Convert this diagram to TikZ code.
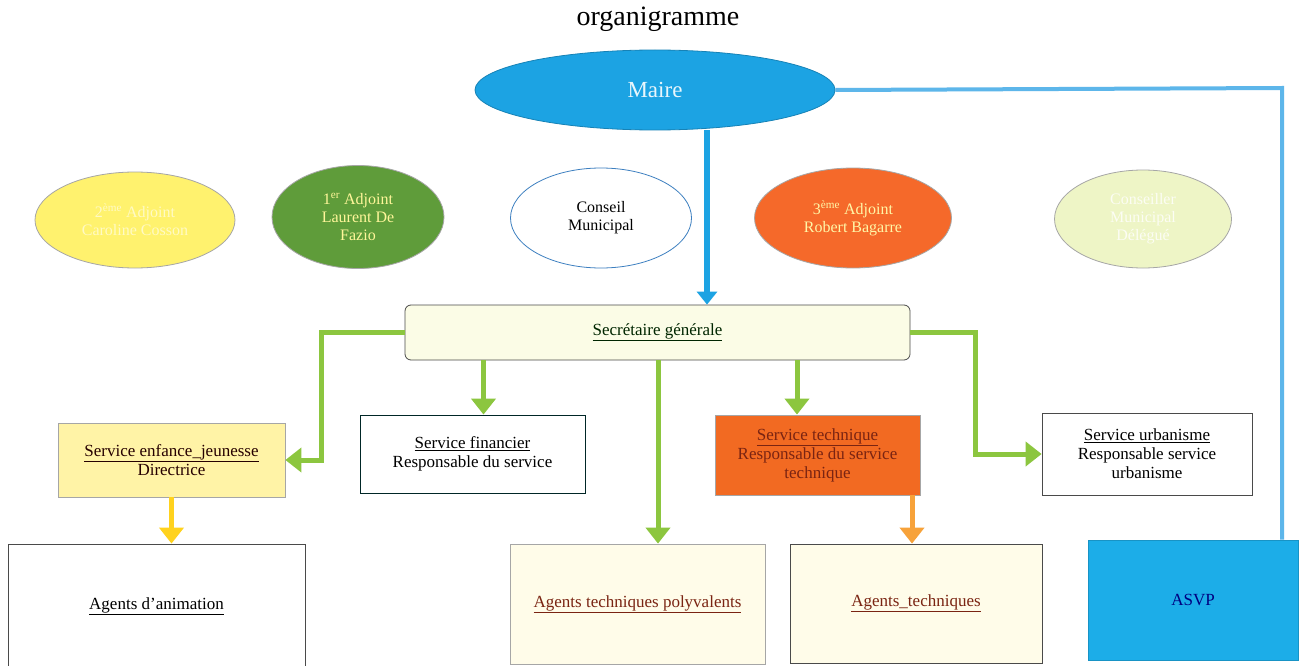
\documentclass[tikz,border=0pt]{standalone}
\usepackage{fontspec}
\setmainfont{Liberation Serif}
\usetikzlibrary{arrows.meta,shapes.geometric,calc}
\definecolor{maireblue}{HTML}{1CA3E3}
\definecolor{lineblue}{HTML}{5DB6EA}
\definecolor{adjyellow}{HTML}{FFF26E}
\definecolor{adjgreen}{HTML}{5F9C3A}
\definecolor{adjorange}{HTML}{F5692A}
\definecolor{adjpale}{HTML}{EEF5C6}
\definecolor{conblue}{HTML}{3C7FC0}
\definecolor{linkgreen}{HTML}{8CC63F}
\definecolor{secfill}{HTML}{FBFCE6}
\definecolor{enffill}{HTML}{FFF3A6}
\definecolor{techfill}{HTML}{F26A22}
\definecolor{agfill}{HTML}{FFFCE9}
\definecolor{asvpfill}{HTML}{1CADE8}
\definecolor{arryellow}{HTML}{FFD21E}
\definecolor{arrorange}{HTML}{F7A23A}
\definecolor{darkred}{HTML}{7A2412}
\definecolor{boxgray}{HTML}{4A4A4A}
\begin{document}
\begin{tikzpicture}[x=1pt,y=-1pt,
  txt/.style={font=\fontsize{17}{19}\selectfont, align=center},
  otxt/.style={font=\fontsize{16}{18}\selectfont, align=center},
  oval/.style={ellipse, draw=gray!70, line width=0.8pt, inner sep=0pt, otxt},
  sbox/.style={rectangle, draw=boxgray, line width=0.8pt, inner sep=0pt, txt},
  greenarrow/.style={draw=linkgreen, line width=5pt, -{Triangle[width=24pt,length=16pt]}},
  yarrow/.style={draw=arryellow, line width=5pt, -{Triangle[width=24pt,length=16pt]}},
  oarrow/.style={draw=arrorange, line width=5pt, -{Triangle[width=24pt,length=16pt]}},
  bluearrow/.style={draw=maireblue, line width=6pt, -{Triangle[width=20pt,length=13pt]}},
  blueline/.style={draw=lineblue, line width=4pt}
]
\useasboundingbox (0,0) rectangle (1308,666);
\fill[white] (0,0) rectangle (1308,666);

\node[font=\fontsize{28}{30}\selectfont] (title) at (658,19) {organigramme};

\node[oval, fill=maireblue, draw=maireblue!80!black, minimum width=360, minimum height=80, text=white!90!maireblue, font=\fontsize{23}{25}\selectfont] (maire) at (655,90) {Maire};

\node[oval, fill=adjyellow, minimum width=200, minimum height=96, text=adjyellow!40!white] (adj2) at (135,220) {2\textsuperscript{ème} Adjoint\\Caroline Cosson};
\node[oval, fill=adjgreen, minimum width=172, minimum height=103, text=adjyellow!70!white] (adj1) at (358,217) {1\textsuperscript{er} Adjoint\\Laurent De\\Fazio};
\node[oval, fill=white, draw=conblue, minimum width=181, minimum height=100, text=black] (conseil) at (601,218) {Conseil\\Municipal};
\node[oval, fill=adjorange, minimum width=197, minimum height=100, text=adjyellow!60!white] (adj3) at (853,218) {3\textsuperscript{ème} Adjoint\\Robert Bagarre};
\node[oval, fill=adjpale, minimum width=177, minimum height=98, text=white!80!adjpale] (cmd) at (1143,219) {Conseiller\\Municipal\\Délégué};

\node[sbox, rounded corners=6pt, fill=secfill, minimum width=505, minimum height=55] (sec) at (657.5,332.5) {\textcolor{black!85!green}{\underline{Secrétaire générale}}};

\node[sbox, fill=enffill, draw=gray!70, minimum width=227, minimum height=74, text=black!85!red] (enf) at (171.5,460) {\underline{Service enfance\_jeunesse}\\Directrice};
\node[sbox, fill=white, draw=black!70!teal, minimum width=225, minimum height=78] (fin) at (472.5,454) {\underline{Service financier}\\Responsable du service};
\node[sbox, fill=techfill, draw=gray!70, minimum width=205, minimum height=80, text=darkred] (tech) at (817.5,455) {\underline{Service technique}\\Responsable du service\\technique};
\node[sbox, fill=white, minimum width=210, minimum height=82] (urb) at (1147,454) {\underline{Service urbanisme}\\Responsable service\\urbanisme};

\node[sbox, fill=white, minimum width=297, minimum height=124] (anim) at (156.5,606) {\underline{Agents d'animation}};
\node[sbox, fill=agfill, draw=gray!70, minimum width=255, minimum height=120, text=darkred] (poly) at (637.5,604) {\underline{Agents techniques polyvalents}};
\node[sbox, fill=agfill, minimum width=252, minimum height=119, text=darkred] (agt) at (916,603.5) {\underline{Agents\_techniques}};
\node[sbox, fill=asvpfill, draw=asvpfill!85!black, minimum width=210, minimum height=120, text=blue!50!black] (asvp) at (1193,600) {ASVP};

% blue connectors
\coordinate (corner) at (1282,88);
\draw[blueline] (maire.east) -- (corner) -- (corner |- asvp.north);
\draw[bluearrow] ([xshift=52]maire.south) -- ([xshift=49.5]sec.north);

% green connectors
\draw[greenarrow] (sec.west) -- ++(-83,0) |- (enf.east);
\draw[greenarrow] ([xshift=11]fin.north |- sec.south) -- ([xshift=11]fin.north);
\draw[greenarrow] ([xshift=20.5]poly.north |- sec.south) -- ([xshift=20.5]poly.north);
\draw[greenarrow] ([xshift=-20.5]tech.north |- sec.south) -- ([xshift=-20.5]tech.north);
\draw[greenarrow] (sec.east) -- ++(65,0) |- (urb.west);

% yellow / orange
\draw[yarrow] (enf.south) -- (enf.south |- anim.north);
\draw[oarrow] ([xshift=-4]agt.north |- tech.south) -- ([xshift=-4]agt.north);
\end{tikzpicture}
\end{document}
